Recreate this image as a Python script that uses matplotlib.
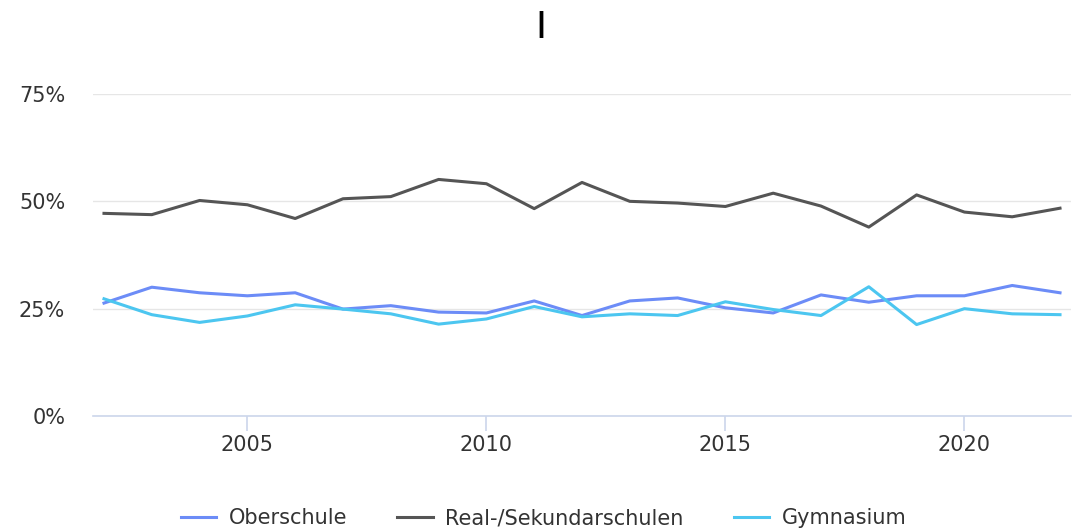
import numpy as np
import matplotlib
matplotlib.use("Agg")
import matplotlib.pyplot as plt
from matplotlib.ticker import PercentFormatter

years = np.arange(2002, 2023)

oberschule = [26.3, 30.0, 28.7, 28.0, 28.7, 24.9, 25.7, 24.2, 24.0, 26.8, 23.4,
              26.8, 27.5, 25.2, 24.0, 28.2, 26.5, 28.0, 28.0, 30.4, 28.7]
real_sek = [47.2, 46.9, 50.2, 49.2, 46.0, 50.6, 51.1, 55.1, 54.1, 48.3, 54.4,
            50.0, 49.6, 48.8, 51.9, 48.9, 44.0, 51.5, 47.5, 46.4, 48.4]
gymnasium = [27.3, 23.6, 21.8, 23.3, 25.9, 24.9, 23.8, 21.4, 22.6, 25.5, 23.1,
             23.8, 23.4, 26.6, 24.8, 23.4, 30.1, 21.3, 25.0, 23.8, 23.6]

labels = ["Oberschule", "Real-/Sekundarschulen", "Gymnasium"]
colors = ["#6c8cf7", "#555555", "#4cc6f0"]

W, H = 1072, 531
fig = plt.figure(figsize=(W / 100, H / 100), dpi=100)
ax = fig.add_axes([93 / W, (H - 416) / H, (1071 - 93) / W, (416 - 94) / H])

for vals, lab, col in zip([oberschule, real_sek, gymnasium], labels, colors):
    ax.plot(years, vals, color=col, lw=2.2, label=lab, solid_joinstyle="round")

ax.set_xlim(2001.77, 2022.23)
ax.set_ylim(0, 75)
ax.set_yticks([0, 25, 50, 75])
ax.set_xticks([2005, 2010, 2015, 2020])
ax.yaxis.set_major_formatter(PercentFormatter(decimals=0))

ax.grid(axis="y", color="#e6e6e6", lw=1)
ax.set_axisbelow(True)
for s in ["top", "right", "left"]:
    ax.spines[s].set_visible(False)
ax.spines["bottom"].set_color("#ccd6eb")
ax.spines["bottom"].set_linewidth(1.2)
ax.tick_params(axis="y", length=0, pad=20, labelsize=15, labelcolor="#333333")
ax.tick_params(axis="x", length=11, width=1.2, color="#ccd6eb", pad=3,
               labelsize=15, labelcolor="#333333")

fig.text(0.505, 0.947, "I", ha="center", va="center", fontsize=27, color="#000000")

leg = fig.legend(loc="lower center", bbox_to_anchor=(0.507, -0.03), ncol=3,
                 frameon=False, fontsize=15, handlelength=1.7, handletextpad=0.6,
                 columnspacing=2.4, labelcolor="#333333")

fig.savefig("out.png", dpi=100)
